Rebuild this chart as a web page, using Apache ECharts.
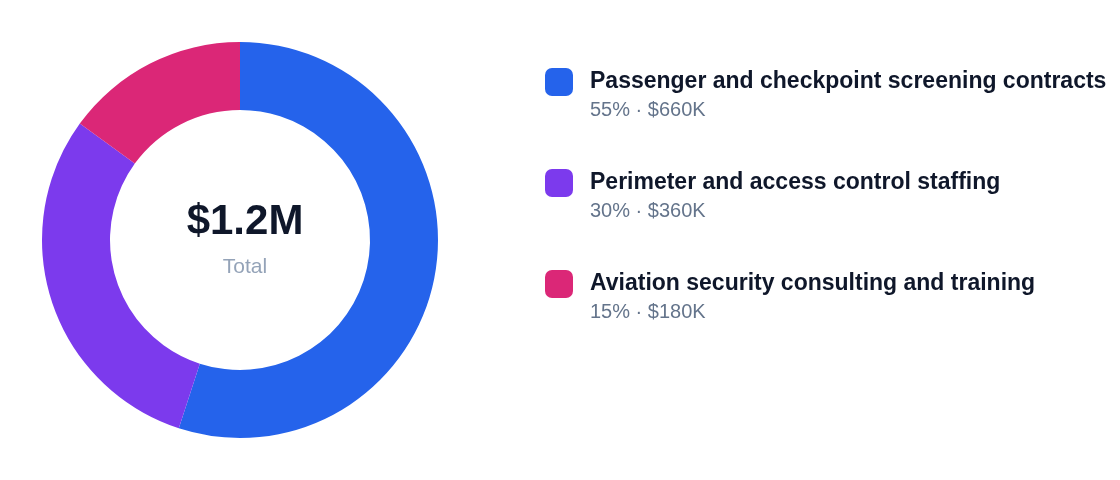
<!DOCTYPE html>
<html><head><meta charset="utf-8">
<script src="https://cdn.jsdelivr.net/npm/echarts@6/dist/echarts.min.js"></script>
<style>html,body{margin:0;background:#fff}#c{width:1120px;height:480px}</style>
</head><body><div id="c"></div>
<script>
const categories = ["Passenger and checkpoint screening contracts","Perimeter and access control staffing","Aviation security consulting and training"];
const values = [660, 360, 180];
const percents = [55, 30, 15];
const colors = ["#2563eb","#7c3aed","#db2777"];
const totalLabel = "$1.2M";
const chart = echarts.init(document.getElementById('c'));
chart.setOption({
  animation:false,
  title:{text:totalLabel,subtext:"Total",left:240,top:196,textAlign:'center',itemGap:14,
    textStyle:{fontFamily:'Liberation Sans',fontSize:42,fontWeight:'bold',color:'#0f172a'},
    subtextStyle:{fontFamily:'Liberation Sans',fontSize:21,color:'#94a3b8'}},
  legend:{orient:'vertical',left:540,top:36,itemWidth:28,itemHeight:28,icon:'roundRect',itemGap:22,
    data:categories,
    formatter:function(n){const i=categories.indexOf(n);return '{b|}\n{t|'+n+'}\n{s|'+percents[i]+'% · $'+values[i]+'K}';},
    textStyle:{padding:[0,0,0,12],rich:{
      b:{height:26,lineHeight:26},
      t:{fontFamily:'Liberation Sans',fontSize:23,fontWeight:'bold',color:'#0f172a',lineHeight:30},
      s:{fontFamily:'Liberation Sans',fontSize:20,color:'#64748b',lineHeight:26}}}},
  series:[{type:'pie',center:[240,240],radius:[130,198],startAngle:90,clockwise:true,
    label:{show:false},labelLine:{show:false},itemStyle:{borderWidth:0},
    data:categories.map((n,i)=>({name:n,value:values[i],itemStyle:{color:colors[i]}}))}]
});
</script></body></html>
